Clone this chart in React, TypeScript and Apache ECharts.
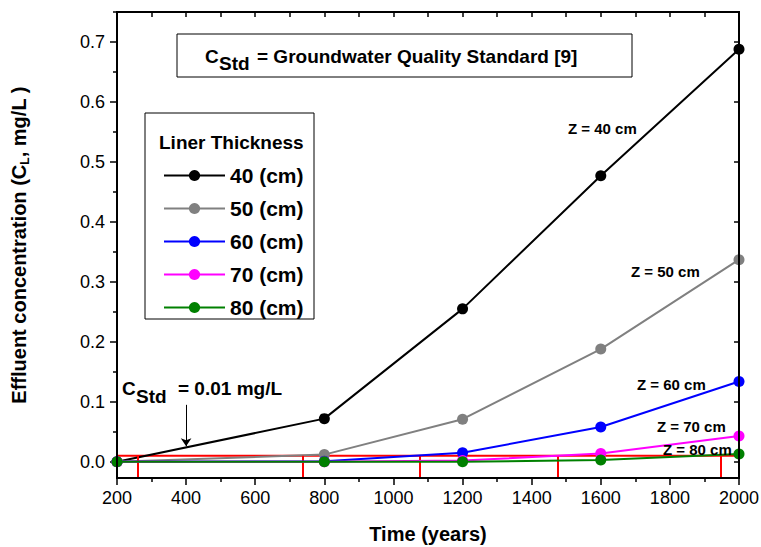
import React, { useEffect, useRef } from "react";
import * as echarts from "echarts";

const years = [200, 800, 1200, 1600, 2000];
const z40 = [0.0, 0.072, 0.255, 0.477, 0.688];
const z50 = [0.0, 0.012, 0.071, 0.188, 0.337];
const z60 = [0.0, 0.001, 0.015, 0.058, 0.134];
const z70 = [0.0, 0.0, 0.002, 0.014, 0.043];
const z80 = [0.0, 0.0, 0.0, 0.003, 0.013];
const seriesNames = ["40 (cm)", "50 (cm)", "60 (cm)", "70 (cm)", "80 (cm)"];
const seriesColors = ["#000000", "#808080", "#0000ff", "#ff00ff", "#008000"];
const cStd = 0.01;
const redDropYears = [260, 737, 1076, 1475, 1948];
const arrowYear = 400;
const arrowFrom = 0.095;
const arrowTo = 0.026;
const yMajor = [0, 0.1, 0.2, 0.3, 0.4, 0.5, 0.6, 0.7];
const yMinor = [0.05, 0.15, 0.25, 0.35, 0.45, 0.55, 0.65, 0.75];
const zLabels = ["Z = 40 cm", "Z = 50 cm", "Z = 60 cm", "Z = 70 cm", "Z = 80 cm"];

const X_MIN = 200;
const X_MAX = 2000;
const Y_MIN = -0.027;
const Y_MAX = 0.75;
const FONT = "'Liberation Sans', Arial, Helvetica, sans-serif";

export default function App() {
  const ref = useRef<HTMLDivElement>(null);
  useEffect(() => {
    if (!ref.current) return;
    const chart = echarts.init(ref.current, null, { renderer: "svg" });
    const allData = [z40, z50, z60, z70, z80];
    const dataSeries = allData.map((vals, i) => ({
      name: seriesNames[i],
      type: "line",
      xAxisIndex: 0,
      yAxisIndex: 0,
      data: years.map((y, j) => [y, vals[j]]),
      symbol: "circle",
      symbolSize: 11,
      itemStyle: { color: seriesColors[i] },
      lineStyle: { color: seriesColors[i], width: 2 },
      z: 3 + i,
    }));
    const zPos = [
      [568, 128],
      [631, 271],
      [637, 384],
      [657, 426],
      [663, 449],
    ];
    const txt = (text: string, x: number, y: number, size: number, extra: any = {}) => ({
      type: "text",
      x,
      y,
      z: 50,
      style: {
        text,
        fontSize: size,
        fontWeight: "bold",
        fontFamily: FONT,
        fill: "#000",
        textVerticalAlign: "middle",
        verticalAlign: "middle",
        ...extra,
      },
    });
    const axisLineOn = () => ({ show: true, onZero: false, lineStyle: { color: "#000", width: 2 } });
    const option: any = {
      animation: false,
      backgroundColor: "#ffffff",
      grid: {
        left: 117,
        right: 22,
        top: 12,
        bottom: 69,
        containLabel: false,
        outerBoundsMode: "none",
        show: true,
        borderColor: "#000",
        borderWidth: 2,
        backgroundColor: "transparent",
      },
      legend: {
        data: seriesNames,
        orient: "vertical",
        left: 158,
        top: 160,
        itemWidth: 61,
        itemHeight: 14,
        itemGap: 12,
        textStyle: {
          fontSize: 21,
          fontWeight: "bold",
          fontFamily: FONT,
          color: "#000",
          lineHeight: 21,
        },
      },
      xAxis: [
        {
          type: "value",
          position: "bottom",
          min: X_MIN,
          max: X_MAX,
          interval: 200,
          name: "Time (years)",
          nameLocation: "middle",
          nameGap: 46,
          nameTextStyle: { fontSize: 20, fontWeight: "bold", fontFamily: FONT, color: "#000" },
          axisLine: axisLineOn(),
          axisTick: { show: true, inside: false, length: 7, lineStyle: { color: "#000", width: 1.5 } },
          minorTick: { show: true, splitNumber: 2, length: 4, lineStyle: { color: "#000", width: 1.5 } },
          axisLabel: {
            fontSize: 18,
            fontFamily: FONT,
            color: "#000",
            margin: 11,
            formatter: (v: number) => String(v),
          },
          splitLine: { show: false },
          minorSplitLine: { show: false },
        },
        {
          type: "value",
          position: "top",
          min: X_MIN,
          max: X_MAX,
          interval: 200,
          axisLine: axisLineOn(),
          axisTick: { show: true, inside: true, length: 5, lineStyle: { color: "#000", width: 1.5 } },
          minorTick: { show: true, splitNumber: 2, length: 5, lineStyle: { color: "#000", width: 1.5 } },
          axisLabel: { show: false },
          splitLine: { show: false },
        },
      ],
      yAxis: [
        {
          type: "value",
          position: "left",
          min: Y_MIN,
          max: Y_MAX,
          name: "Effluent concentration (C{sub|L}, mg/L )",
          nameLocation: "middle",
          nameGap: 86,
          nameTextStyle: {
            fontSize: 20,
            fontWeight: "bold",
            fontFamily: FONT,
            color: "#000",
            lineHeight: 24,
            rich: {
              sub: {
                fontSize: 12,
                fontWeight: "bold",
                fontFamily: FONT,
                color: "#000",
                lineHeight: 12,
                verticalAlign: "bottom",
              },
            },
          },
          axisLine: axisLineOn(),
          axisTick: {
            show: true,
            inside: false,
            length: 7,
            customValues: yMajor,
            lineStyle: { color: "#000", width: 1.5 },
          },
          axisLabel: {
            fontSize: 18,
            fontFamily: FONT,
            color: "#000",
            margin: 12,
            customValues: yMajor,
            formatter: (v: number) => v.toFixed(1),
          },
          splitLine: { show: false },
        },
        {
          type: "value",
          position: "left",
          min: Y_MIN,
          max: Y_MAX,
          axisLine: { show: false },
          axisTick: {
            show: true,
            inside: false,
            length: 4,
            customValues: yMinor,
            lineStyle: { color: "#000", width: 1.5 },
          },
          axisLabel: { show: false },
          splitLine: { show: false },
        },
        {
          type: "value",
          position: "right",
          min: Y_MIN,
          max: Y_MAX,
          axisLine: axisLineOn(),
          axisTick: {
            show: true,
            inside: true,
            length: 5,
            customValues: yMajor,
            lineStyle: { color: "#000", width: 1.5 },
          },
          axisLabel: { show: false },
          splitLine: { show: false },
        },
      ],
      series: [
        {
          name: "C_Std",
          type: "line",
          xAxisIndex: 0,
          yAxisIndex: 0,
          data: [
            [X_MIN, cStd],
            [X_MAX, cStd],
          ],
          symbol: "none",
          lineStyle: { color: "#ff0000", width: 2 },
          z: 2,
          markLine: {
            silent: true,
            symbol: "none",
            label: { show: false },
            lineStyle: { color: "#ff0000", width: 2, type: "solid" },
            data: redDropYears.map((yr) => [
              { coord: [yr, cStd] },
              { coord: [yr, Y_MIN] },
            ]),
          },
        },
        ...dataSeries,
        {
          name: "arrow",
          type: "line",
          xAxisIndex: 0,
          yAxisIndex: 0,
          data: [],
          z: 20,
          markLine: {
            silent: true,
            symbol: ["none", "arrow"],
            symbolSize: 8,
            label: { show: false },
            lineStyle: { color: "#000", width: 1, type: "solid" },
            data: [[{ coord: [arrowYear, arrowFrom] }, { coord: [arrowYear, arrowTo] }]],
          },
        },
      ],
      graphic: [
        {
          type: "rect",
          shape: { x: 117, y: 12, width: 622, height: 466 },
          style: { fill: "none", stroke: "#000", lineWidth: 2 },
          z: 60,
          silent: true,
        },
        {
          type: "rect",
          shape: { x: 177, y: 34, width: 455, height: 43 },
          style: { fill: "#fff", stroke: "#000", lineWidth: 1 },
          z: 40,
        },
        txt("C", 205, 56, 19),
        txt("Std", 219, 63, 19),
        txt("= Groundwater Quality Standard [9]", 257, 56, 19),
        {
          type: "rect",
          shape: { x: 145, y: 113, width: 169, height: 206 },
          style: { fill: "#fff", stroke: "#000", lineWidth: 1 },
          z: 1,
        },
        txt("Liner Thickness", 159, 142, 19),
        txt("C", 122, 388, 19),
        txt("Std", 136, 396, 19),
        txt("= 0.01 mg/L", 178, 388, 19),
        ...zLabels.map((t, i) => txt(t, zPos[i][0], zPos[i][1], 15)),
      ],
    };
    chart.setOption(option);
    return () => chart.dispose();
  }, []);
  return (
    <div
      ref={ref}
      style={{ position: "fixed", left: 0, top: 0, width: 761, height: 547, background: "#fff" }}
    />
  );
}
